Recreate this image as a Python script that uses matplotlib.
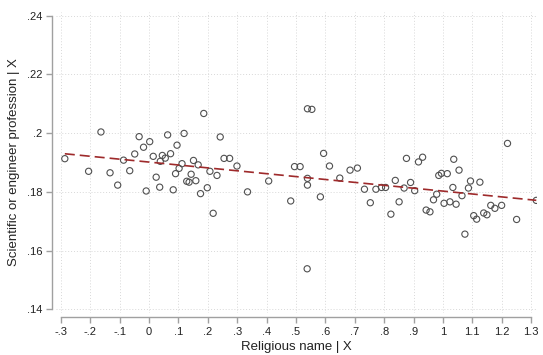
import numpy as np
import matplotlib
matplotlib.use("Agg")
import matplotlib.pyplot as plt
from matplotlib.ticker import FixedLocator

# Added-variable plot: religious name vs. scientific/engineer profession
religious = [
    -0.287, -0.206, -0.164, -0.133, -0.107, -0.087, -0.066, -0.049, -0.034, -0.019,
    -0.010, 0.002, 0.014, 0.024, 0.036, 0.038, 0.045, 0.055, 0.063, 0.073,
    0.082, 0.090, 0.095, 0.102, 0.112, 0.119, 0.128, 0.136, 0.143, 0.151,
    0.159, 0.167, 0.175, 0.186, 0.198, 0.207, 0.218, 0.231, 0.242, 0.255,
    0.274, 0.299, 0.335, 0.407, 0.482, 0.495, 0.514, 0.539, 0.554, 0.539,
    0.539, 0.538, 0.583, 0.594, 0.614, 0.649, 0.684, 0.709, 0.733, 0.753,
    0.772, 0.791, 0.805, 0.823, 0.838, 0.851, 0.868, 0.876, 0.890, 0.904,
    0.917, 0.931, 0.943, 0.956, 0.968, 0.979, 0.986, 0.995, 1.004, 1.015,
    1.024, 1.034, 1.037, 1.045, 1.055, 1.065, 1.075, 1.087, 1.094, 1.105,
    1.115, 1.126, 1.139, 1.150, 1.163, 1.177, 1.200, 1.220, 1.251, 1.318,
]
science = [
    0.1913, 0.1870, 0.2004, 0.1865, 0.1823, 0.1908, 0.1872, 0.1929, 0.1988, 0.1952,
    0.1803, 0.1971, 0.1921, 0.1850, 0.1816, 0.1904, 0.1924, 0.1915, 0.1994, 0.1930,
    0.1807, 0.1862, 0.1959, 0.1880, 0.1896, 0.1999, 0.1836, 0.1833, 0.1860, 0.1907,
    0.1838, 0.1892, 0.1794, 0.2067, 0.1814, 0.1870, 0.1727, 0.1856, 0.1987, 0.1914,
    0.1914, 0.1888, 0.1800, 0.1837, 0.1769, 0.1886, 0.1886, 0.2083, 0.2081, 0.1846,
    0.1823, 0.1538, 0.1783, 0.1931, 0.1888, 0.1847, 0.1874, 0.1881, 0.1809, 0.1763,
    0.1809, 0.1815, 0.1815, 0.1724, 0.1839, 0.1766, 0.1813, 0.1914, 0.1832, 0.1804,
    0.1902, 0.1918, 0.1738, 0.1732, 0.1773, 0.1792, 0.1856, 0.1863, 0.1761, 0.1862,
    0.1766, 0.1815, 0.1911, 0.1758, 0.1874, 0.1787, 0.1656, 0.1813, 0.1837, 0.1719,
    0.1707, 0.1833, 0.1728, 0.1722, 0.1754, 0.1744, 0.1754, 0.1965, 0.1706, 0.1771,
]

x_ticks = [-0.3, -0.2, -0.1, 0, 0.1, 0.2, 0.3, 0.4, 0.5, 0.6, 0.7, 0.8, 0.9,
           1.0, 1.1, 1.2, 1.3]
x_labels = ["-.3", "-.2", "-.1", "0", ".1", ".2", ".3", ".4", ".5", ".6", ".7",
            ".8", ".9", "1", "1.1", "1.2", "1.3"]
y_ticks = [0.14, 0.16, 0.18, 0.20, 0.22, 0.24]
y_labels = [".14", ".16", ".18", ".2", ".22", ".24"]

plt.rcParams["font.family"] = ["Liberation Sans", "DejaVu Sans"]

W, H = 543, 355
fig = plt.figure(figsize=(W / 100, H / 100), dpi=100)
fig.patch.set_facecolor("white")
ax = fig.add_axes([56 / W, 1 - 313 / H, (537 - 56) / W, (313 - 12) / H])

ax.set_xlim(-0.3 - 5 / 294, 1.3 + 6 / 294)
ax.set_ylim(0.14 - 3.7 / 2935, 0.24 + 3.7 / 2935)

ax.grid(True, color="#d8d8d8", linestyle=(0, (1, 2)), linewidth=0.7)
ax.set_axisbelow(True)

ax.scatter(religious, science, s=20, facecolors="none", edgecolors="#505050",
           linewidths=0.8, zorder=3)

# least-squares fit
b1, b0 = np.polyfit(religious, science, 1)
xs = np.array([min(religious), max(religious)])
ax.plot(xs, b0 + b1 * xs, color="#9e2a2b", linestyle=(0, (6, 3)),
        linewidth=1.2, zorder=4)

ax.xaxis.set_major_locator(FixedLocator(x_ticks))
ax.set_xticklabels(x_labels)
ax.yaxis.set_major_locator(FixedLocator(y_ticks))
ax.set_yticklabels(y_labels)

for side in ("top", "right"):
    ax.spines[side].set_visible(False)
for side in ("left", "bottom"):
    ax.spines[side].set_position(("outward", 3))
    ax.spines[side].set_color("#a0a0a0")
    ax.spines[side].set_linewidth(1.0)
ax.spines["bottom"].set_bounds(-0.3, 1.3)
ax.spines["left"].set_bounds(0.14, 0.24)

ax.tick_params(axis="both", direction="out", length=4, width=1.0,
               color="#a0a0a0", labelsize=8, labelcolor="#222222", pad=3)

ax.set_xlabel("Religious name | X", fontsize=9.5, color="#222222", labelpad=3)
ax.set_ylabel("Scientific or engineer profession | X", fontsize=9.5,
              color="#222222", labelpad=5)

fig.savefig("out.png", dpi=100, facecolor="white")
